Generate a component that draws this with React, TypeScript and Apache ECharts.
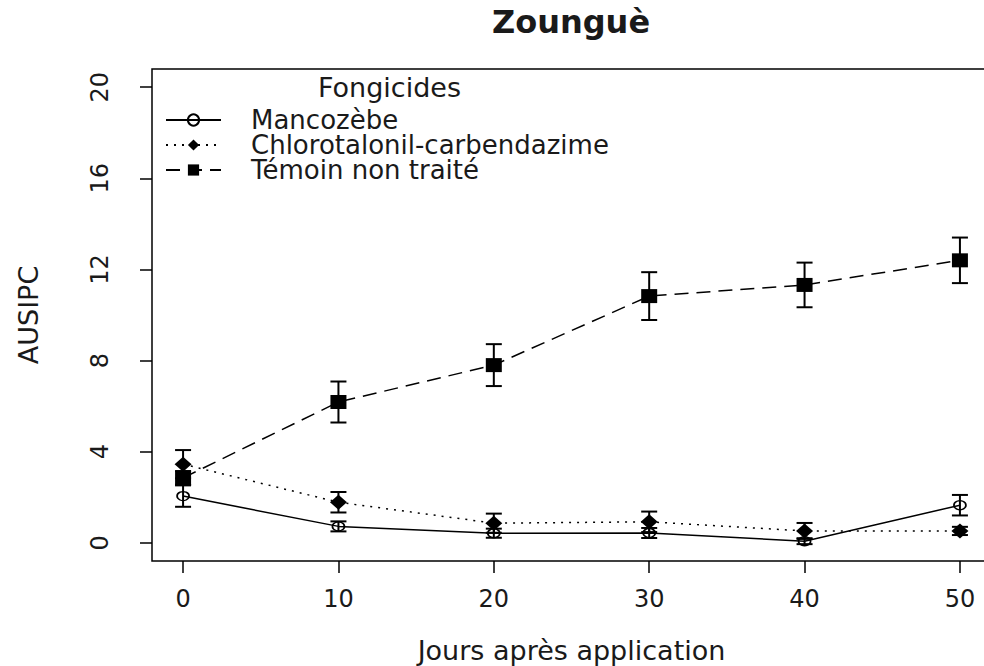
import React, { useEffect, useRef } from "react";
import * as echarts from "echarts";

const days = [0, 10, 20, 30, 40, 50];
const xTicks = [0, 10, 20, 30, 40, 50];
const yTicks = [0, 4, 8, 12, 16, 20];

const mancozebe = [2.05, 0.72, 0.42, 0.43, 0.07, 1.65];
const mancozebeErr = [0.47, 0.22, 0.2, 0.22, 0.13, 0.45];
const chloro = [3.45, 1.78, 0.86, 0.92, 0.52, 0.52];
const chloroErr = [0.62, 0.45, 0.42, 0.45, 0.35, 0.18];
const temoin = [2.85, 6.18, 7.8, 10.83, 11.32, 12.4];
const temoinErr = [0.3, 0.9, 0.92, 1.05, 0.98, 1.0];

const names = ["Mancozèbe", "Chlorotalonil-carbendazime", "Témoin non traité"];
const FONT = "DejaVu Sans";
const INK = "#1a1a1a";

function pairs(vals: number[]) {
  return days.map((d, i) => [d, vals[i]]);
}
function errs(vals: number[], e: number[]) {
  return days.map((d, i) => [d, vals[i] - e[i], vals[i] + e[i]]);
}

function errSeries(name: string, data: number[][]) {
  return {
    type: "custom",
    name,
    data,
    z: 3,
    encode: { x: 0, y: [1, 2] },
    renderItem: (params: any, api: any) => {
      const x = api.value(0);
      const lo = api.value(1);
      const hi = api.value(2);
      const p1 = api.coord([x, hi]);
      const p2 = api.coord([x, lo]);
      const hw = 8;
      const st = { stroke: "#000", lineWidth: 2 };
      return {
        type: "group",
        children: [
          { type: "line", shape: { x1: p1[0], y1: p1[1], x2: p2[0], y2: p2[1] }, style: st },
          { type: "line", shape: { x1: p1[0] - hw, y1: p1[1], x2: p1[0] + hw, y2: p1[1] }, style: st },
          { type: "line", shape: { x1: p2[0] - hw, y1: p2[1], x2: p2[0] + hw, y2: p2[1] }, style: st },
        ],
      };
    },
  };
}

export default function App() {
  const ref = useRef<HTMLDivElement>(null);
  useEffect(() => {
    if (!ref.current) return;
    const chart = echarts.init(ref.current, null, { renderer: "svg" });
    chart.setOption({
      animation: false,
      backgroundColor: "#fff",
      title: {
        text: "Zounguè",
        left: 566,
        top: 1,
        textAlign: "center",
        textStyle: { fontFamily: FONT, fontWeight: "bold", fontSize: 32, color: INK },
      },
      grid: {
        left: 152,
        top: 69,
        width: 839,
        height: 492,
        containLabel: false,
        outerBoundsMode: "none",
        show: true,
        borderColor: "#000",
        borderWidth: 1.5,
        backgroundColor: "transparent",
      },
      legend: {
        data: names,
        orient: "vertical",
        left: 160,
        top: 102,
        itemWidth: 55,
        itemHeight: 14,
        itemGap: -1,
        textStyle: {
          fontFamily: FONT,
          fontSize: 26,
          color: INK,
          padding: [0, 0, 0, 25],
        },
      },
      graphic: [
        {
          type: "text",
          left: 318,
          top: 74,
          style: { text: "Fongicides", font: `27px "${FONT}"`, fill: INK },
        },
      ],
      xAxis: {
        type: "value",
        min: -2,
        max: 52,
        name: "Jours après application",
        nameLocation: "middle",
        nameGap: 76,
        nameTextStyle: { fontFamily: FONT, fontSize: 27, color: INK },
        splitLine: { show: false },
        axisLine: { show: false, onZero: false },
        axisTick: {
          show: true,
          length: 12,
          customValues: xTicks,
          lineStyle: { color: "#000", width: 1.5 },
        },
        axisLabel: {
          customValues: xTicks,
          margin: 26,
          fontFamily: FONT,
          fontSize: 24,
          color: INK,
        },
      },
      yAxis: {
        type: "value",
        min: -0.8,
        max: 20.8,
        name: "AUSIPC",
        nameLocation: "middle",
        nameGap: 110,
        nameTextStyle: { fontFamily: FONT, fontSize: 27, color: INK },
        splitLine: { show: false },
        axisLine: { show: false, onZero: false },
        axisTick: {
          show: true,
          length: 12,
          customValues: yTicks,
          lineStyle: { color: "#000", width: 1.5 },
        },
        axisLabel: {
          customValues: yTicks,
          rotate: 90,
          margin: 40,
          fontFamily: FONT,
          fontSize: 24,
          color: INK,
        },
      },
      series: [
        errSeries("err-m", errs(mancozebe, mancozebeErr)),
        errSeries("err-c", errs(chloro, chloroErr)),
        errSeries("err-t", errs(temoin, temoinErr)),
        {
          type: "line",
          name: names[0],
          data: pairs(mancozebe),
          symbol: "circle",
          symbolSize: [12, 9],
          z: 4,
          lineStyle: { color: "#000", width: 1.5, type: "solid" },
          itemStyle: { color: "transparent", borderColor: "#000", borderWidth: 1.5 },
        },
        {
          type: "line",
          name: names[1],
          data: pairs(chloro),
          symbol: "diamond",
          symbolSize: [17, 15],
          z: 4,
          lineStyle: { color: "#000", width: 1.5, type: [2, 6] },
          itemStyle: { color: "#000" },
        },
        {
          type: "line",
          name: names[2],
          data: pairs(temoin),
          symbol: "rect",
          symbolSize: [16, 14],
          z: 4,
          lineStyle: { color: "#000", width: 1.5, type: [14, 8] },
          itemStyle: { color: "#000" },
        },
      ],
    });
    return () => chart.dispose();
  }, []);
  return (
    <div
      ref={ref}
      style={{ position: "fixed", left: 0, top: 0, width: 984, height: 666 }}
    />
  );
}
